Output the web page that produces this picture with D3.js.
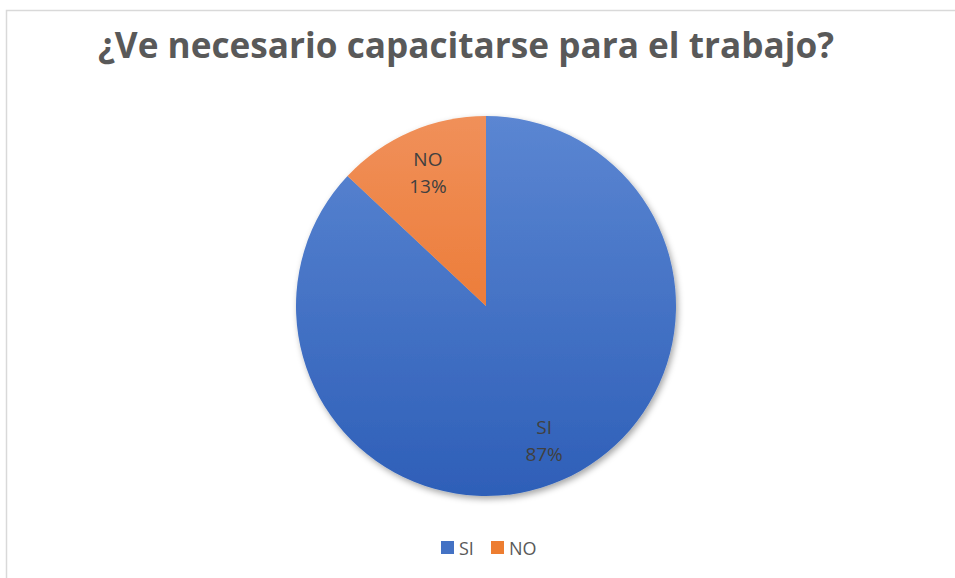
<!DOCTYPE html>
<html>
<head>
<meta charset="utf-8">
<script src="https://d3js.org/d3.v7.min.js"></script>
<style>
  body { margin:0; background:#fff; }
  .title { font: bold 36px "Open Sans", sans-serif; fill:#595959; }
  .lbl { font: 19px "Open Sans", sans-serif; fill:#404040; }
  .leg { font: 18px "Open Sans", sans-serif; fill:#595959; }
</style>
</head>
<body>
<script>
var categories = ["SI", "NO"];
var values = [87, 13];
var colors = ["#4472C4", "#ED7D31"];

var w = 955, h = 578,
    cx = 486, cy = 306, r = 190;

var svg = d3.select("body").append("svg")
    .attr("width", w)
    .attr("height", h);

var defs = svg.append("defs");
var grads = [["gSI", "#5b86d2", "#2e5fb8"], ["gNO", "#f0905a", "#e96a1a"]];
grads.forEach(function(g) {
  var lg = defs.append("linearGradient").attr("id", g[0])
      .attr("gradientUnits", "userSpaceOnUse")
      .attr("x1", 0).attr("y1", -r).attr("x2", 0).attr("y2", r);
  lg.append("stop").attr("offset", "0%").attr("stop-color", g[1]);
  lg.append("stop").attr("offset", "100%").attr("stop-color", g[2]);
});
var f = defs.append("filter").attr("id", "sh").attr("x", "-10%").attr("y", "-10%").attr("width", "130%").attr("height", "130%");
f.append("feDropShadow").attr("dx", 2).attr("dy", 3).attr("stdDeviation", 3).attr("flood-color", "#000").attr("flood-opacity", 0.35);

// chart border
svg.append("rect").attr("x", 6.5).attr("y", 10.5).attr("width", 1000).attr("height", 700)
    .attr("fill", "none").attr("stroke", "#d9d9d9").attr("stroke-width", 1.5);

svg.append("text").attr("class", "title")
    .attr("x", 466).attr("y", 58)
    .attr("text-anchor", "middle")
    .attr("textLength", 736).attr("lengthAdjust", "spacingAndGlyphs")
    .text("¿Ve necesario capacitarse para el trabajo?");

var pie = d3.pie().sort(null).value(function(d) { return d; });
var arcs = pie(values);
var arc = d3.arc().innerRadius(0).outerRadius(r);
var lblArc = d3.arc().innerRadius(r * 0.77).outerRadius(r * 0.77);

var g = svg.append("g").attr("transform", "translate(" + cx + "," + cy + ")");

g.append("g").attr("filter", "url(#sh)")
  .selectAll("path")
  .data(arcs)
  .enter().append("path")
    .attr("d", arc)
    .attr("fill", function(d, i) { return "url(#g" + categories[i] + ")"; });

var t = g.selectAll(".lbl")
  .data(arcs)
  .enter().append("text")
    .attr("class", "lbl")
    .attr("text-anchor", "middle")
    .attr("transform", function(d) { var c = lblArc.centroid(d); return "translate(" + c[0] + "," + c[1] + ")"; });
t.append("tspan").attr("x", 0).attr("y", -6).text(function(d, i) { return categories[i]; });
t.append("tspan").attr("x", 0).attr("y", 21).text(function(d, i) { return d3.format(".0f")(d.data) + "%"; });

// legend
var legX = [441, 491];
var leg = svg.append("g").selectAll("g")
  .data(categories)
  .enter().append("g")
    .attr("transform", function(d, i) { return "translate(" + legX[i] + ",541)"; });
leg.append("rect").attr("width", 13).attr("height", 13)
    .attr("fill", function(d, i) { return colors[i]; });
leg.append("text").attr("class", "leg")
    .attr("x", 18).attr("y", 13.5)
    .text(function(d) { return d; });
</script>
</body>
</html>
